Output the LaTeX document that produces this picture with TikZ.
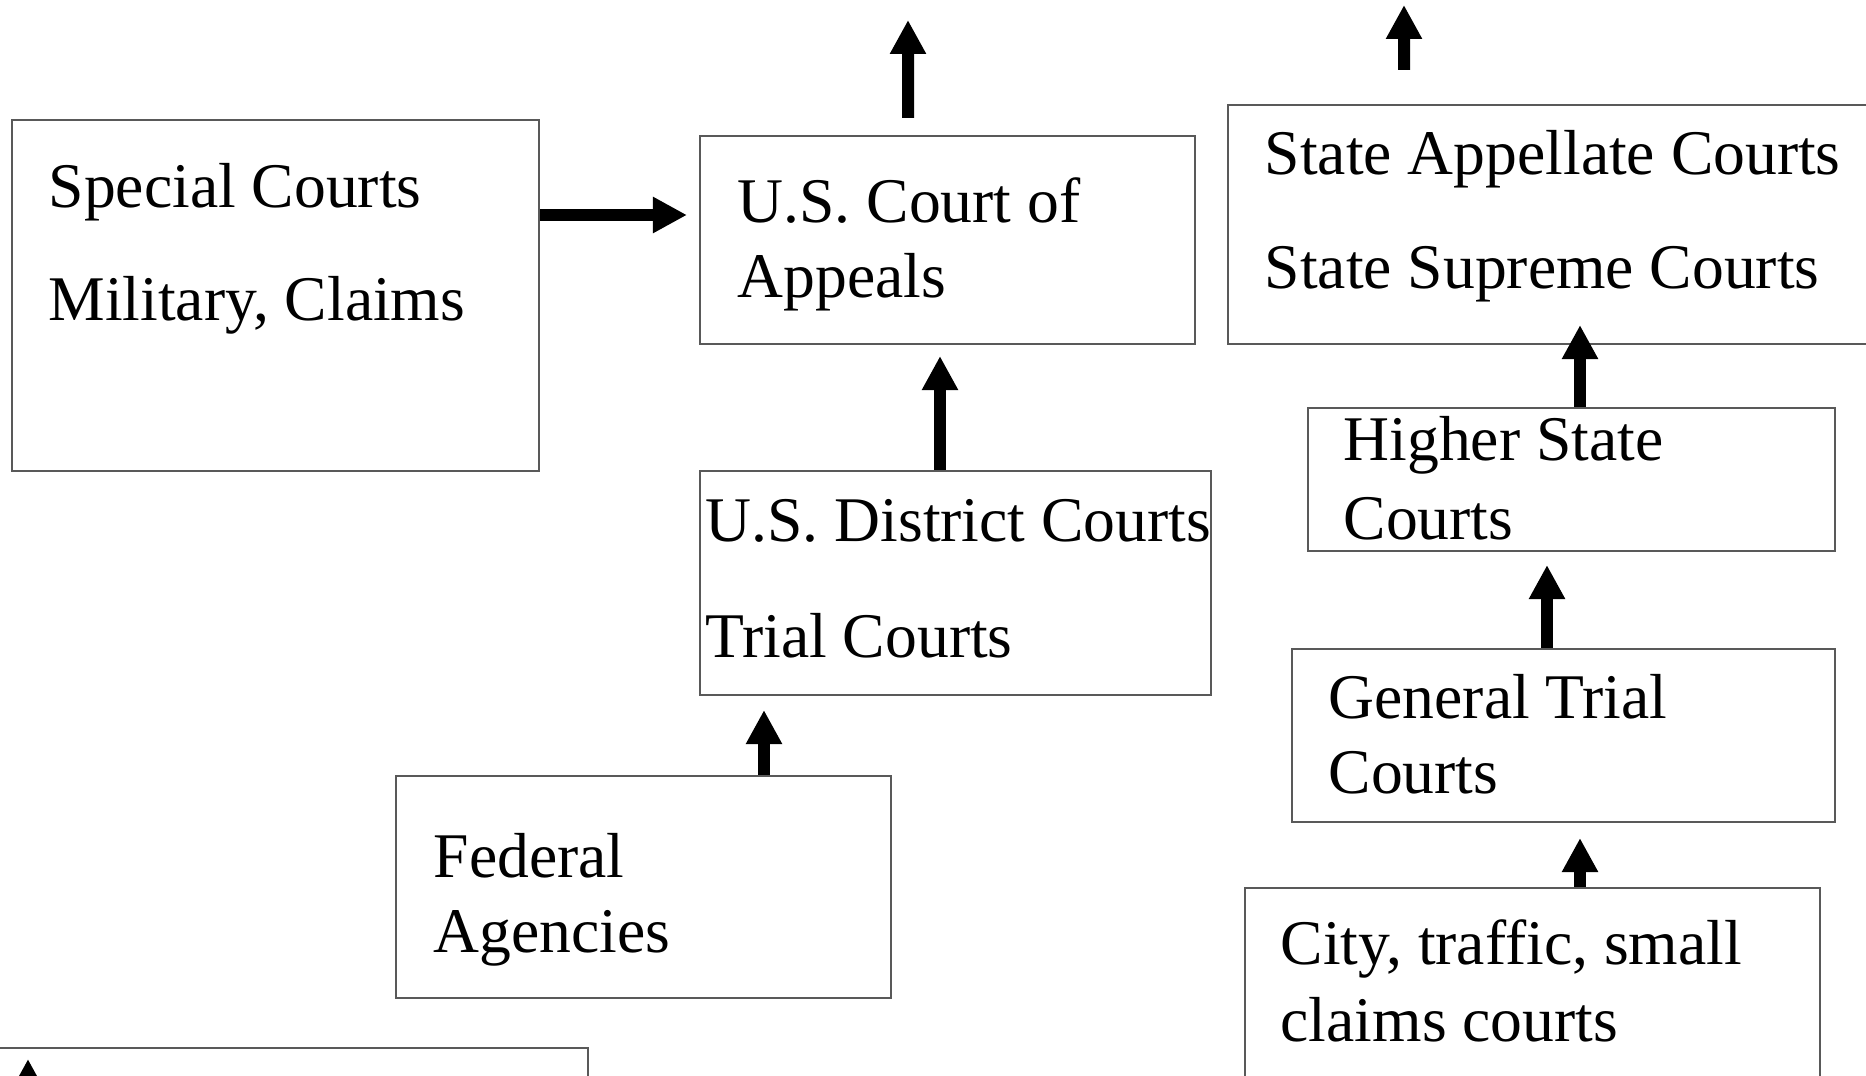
\documentclass[tikz,border=0pt]{standalone}
\usepackage{fontspec}
\setmainfont{Liberation Serif}
\usepackage{tikz}
\usetikzlibrary{arrows.meta, positioning}

\begin{document}
\begin{tikzpicture}[
    x=0.1mm, y=-0.1mm,
    court box/.style = {
        rectangle,
        draw=black!65,
        line width=0.6pt,
        inner sep=0pt
    },
    court text/.style = {
        anchor=base west,
        inner sep=0pt,
        font=\fontsize{18.1}{21}\selectfont
    },
    up arrow/.style = {-{Triangle[length=3.4mm, width=3.4mm]}, line width=1.2mm, black}
]

\useasboundingbox (0,0) rectangle (1866,1076);
\clip (0,0) rectangle (1866,1076);

% boxes
\node [court box, minimum width=52.7mm, minimum height=35.1mm] (special) at (275.5,295.5) {};
\node [court box, minimum width=49.5mm, minimum height=20.8mm] (appeals) at (947.5,240) {};
\node [court box, minimum width=65.2mm, minimum height=23.9mm] (state) at (1554,224.5) {};
\node [court box, minimum width=52.7mm, minimum height=14.3mm] (higher) at (1571.5,479.5) {};
\node [court box, minimum width=54.3mm, minimum height=17.3mm] (general) at (1563.5,735.5) {};
\node [court box, minimum width=57.5mm, minimum height=21.2mm] (city) at (1532.5,994) {};
\node [court box, minimum width=51.1mm, minimum height=22.4mm] (district) at (955.5,583) {};
\node [court box, minimum width=49.5mm, minimum height=22.2mm] (federal) at (643.5,887) {};
\node [court box, minimum width=59.8mm, minimum height=5.2mm] (nextbox) at (289,1074) {};

% texts
\node [court text] (special-a) at (48,208) {Special Courts};
\node [court text] (special-b) at (48,321) {Military, Claims};
\node [court text] (appeals-a) at (737,223) {U.S. Court of};
\node [court text] (appeals-b) at (737,297) {Appeals};
\node [court text] (state-a) at (1264,175) {State Appellate Courts};
\node [court text] (state-b) at (1264,289) {State Supreme Courts};
\node [court text] (higher-a) at (1343,460) {Higher State};
\node [court text] (higher-b) at (1343,539) {Courts};
\node [court text] (general-a) at (1328,718) {General Trial};
\node [court text] (general-b) at (1328,793) {Courts};
\node [court text] (city-a) at (1280,964) {City, traffic, small};
\node [court text] (city-b) at (1280,1041) {claims courts};
\node [court text] (district-a) at (705,541) {U.S. District Courts};
\node [court text] (district-b) at (705,657) {Trial Courts};
\node [court text] (federal-a) at (433,877) {Federal};
\node [court text] (federal-b) at (433,952) {Agencies};

% free arrow ends
\coordinate (up-fed) at (908,20);
\coordinate (up-state) at (1404,5);
\coordinate (up-low) at (28,1059);
\coordinate (sp-out) at ([yshift=8.05mm]special.east);
\coordinate (dist-out) at ([xshift=-1.55mm]district.north);
\coordinate (fed-out) at ([xshift=12.05mm]federal.north);
\coordinate (high-out) at ([xshift=0.85mm]higher.north);
\coordinate (gen-out) at ([xshift=-1.65mm]general.north);
\coordinate (city-out) at ([xshift=4.75mm]city.north);

% arrows
\draw[up arrow] ([xshift=-3.95mm, yshift=1.7mm]appeals.north) -- (up-fed);
\draw[up arrow] ([xshift=-15mm, yshift=3.4mm]state.north) -- (up-state);
\draw[up arrow, shorten >=1.2mm] (sp-out) -- (sp-out -| appeals.west);
\draw[up arrow, shorten >=1.1mm] (dist-out) -- (dist-out |- appeals.south);
\draw[up arrow, shorten >=1.4mm] (fed-out) -- (fed-out |- district.south);
\draw[up arrow, shorten >=-2mm] (high-out) -- (high-out |- state.south);
\draw[up arrow, shorten >=1.3mm] (gen-out) -- (gen-out |- higher.south);
\draw[up arrow, shorten >=1.5mm] (city-out) -- (city-out |- general.south);
\draw[up arrow] (up-low |- nextbox.south) -- (up-low);

\end{tikzpicture}
\end{document}
